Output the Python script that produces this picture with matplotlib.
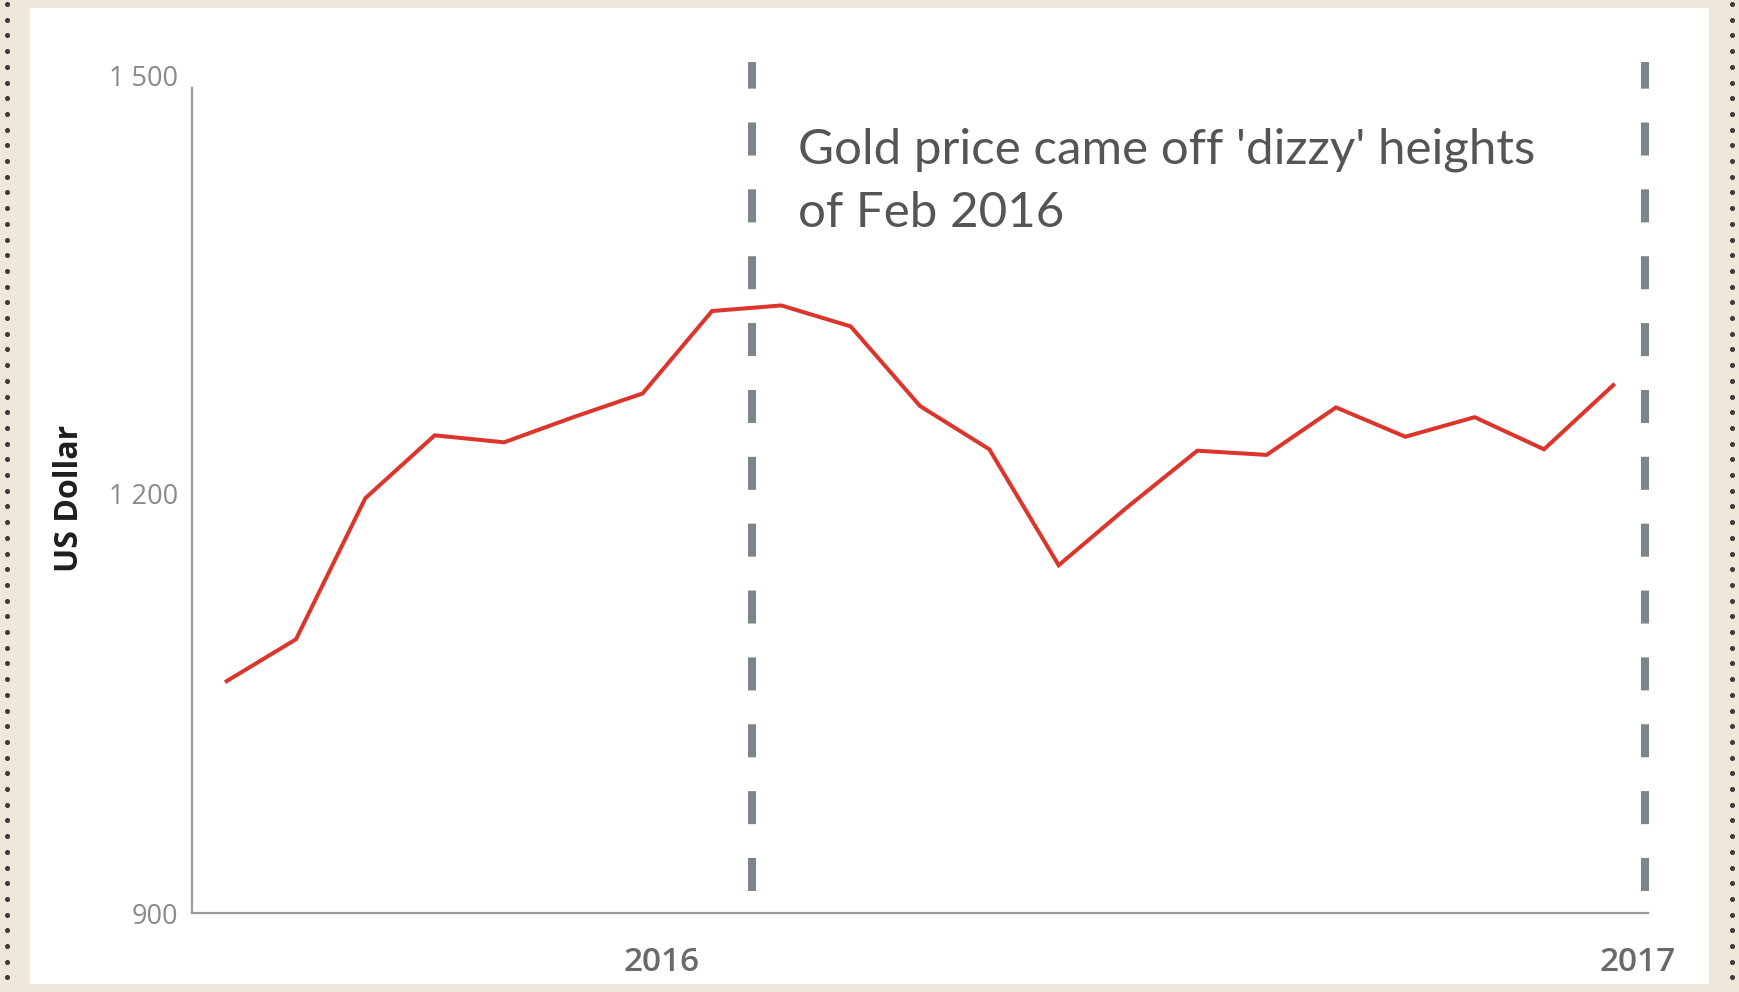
import matplotlib.pyplot as plt
import numpy as np
import pandas as pd
from matplotlib.patches import Rectangle
from matplotlib.lines import Line2D

# data (roughly 26-day steps)
dates = ["2015-07-22", "2015-08-17", "2015-09-12", "2015-10-08", "2015-11-03",
         "2015-11-29", "2015-12-25", "2016-01-20", "2016-02-15", "2016-03-12",
         "2016-04-07", "2016-05-03", "2016-05-29", "2016-06-24", "2016-07-20",
         "2016-08-15", "2016-09-10", "2016-10-06", "2016-11-01", "2016-11-27",
         "2016-12-23"]
gold = [1066, 1096, 1197, 1242, 1237, 1255, 1272, 1331, 1335, 1320,
        1263, 1232, 1149, 1191, 1231, 1228, 1262, 1241, 1255, 1232, 1278]
marker_dates = ["2016-02-04", "2017-01-04"]
year_ticks = ["2016-01-01", "2017-01-01"]
year_labels = ["2016", "2017"]
y_ticks = [900, 1200, 1500]
y_labels = ["900", "1 200", "1 500"]
note = "Gold price came off 'dizzy' heights\nof Feb 2016"

W, H = 1739, 992
fig = plt.figure(figsize=(W / 100, H / 100), dpi=100)
fig.patch.set_facecolor("#efe7da")

# white card + dotted borders
fig.patches.append(Rectangle((30 / W, 8 / H), 1679 / W, 976 / H, transform=fig.transFigure,
                             facecolor="white", edgecolor="none", zorder=-5))
ys = np.arange(4, H, 15.7)
for xp in (7, 1732):
    fig.add_artist(Line2D([xp / W] * len(ys), (H - ys) / H, transform=fig.transFigure,
                          linestyle="none", marker="o", markersize=2.6, color="#3a3a3a"))

ax = fig.add_axes([192 / W, 79 / H, 1456 / W, 838 / H])
ax.set_zorder(2)
ax.set_facecolor("none")

x = pd.to_datetime(dates)
ax.plot(x, gold, color="#dc352c", lw=2.9, solid_joinstyle="miter", zorder=3)

for d in pd.to_datetime(marker_dates):
    ax.plot([d, d], [916, 1509], color="#7a858c", lw=5.8, linestyle=(0, (4.1, 4.2)),
            solid_capstyle="butt", dash_capstyle="butt", clip_on=False, zorder=2)

ax.set_ylim(900, 1500)
ax.set_xlim(pd.Timestamp("2015-07-09"), pd.Timestamp("2017-01-05"))

for s in ["top", "right"]:
    ax.spines[s].set_visible(False)
for s in ["left", "bottom"]:
    ax.spines[s].set_color("#9a9a9a")
    ax.spines[s].set_linewidth(1.6)
ax.spines["left"].set_bounds(900, 1491)

ax.set_yticks(y_ticks)
ax.set_yticklabels(y_labels, fontsize=19.5, color="#8a8a8a", family="Open Sans")
ax.set_xticks(pd.to_datetime(year_ticks))
ax.set_xticklabels(year_labels, fontsize=24, color="#6a6a6a", family="Open Sans", fontweight="semibold")
ax.tick_params(axis="both", length=0)
ax.tick_params(axis="y", pad=10)
ax.tick_params(axis="x", pad=24)

fig.text(69 / W, 1 - 498 / H, "US Dollar", rotation=90, ha="center", va="center",
         fontsize=23, fontweight="bold", color="#1e1e1e", family="Open Sans")

fig.text(798 / W, 1 - 128 / H, note, ha="left", va="top", fontsize=35.5,
         color="#555555", family="Lato", linespacing=1.52)

fig.savefig("out.png", dpi=100, facecolor=fig.get_facecolor())
